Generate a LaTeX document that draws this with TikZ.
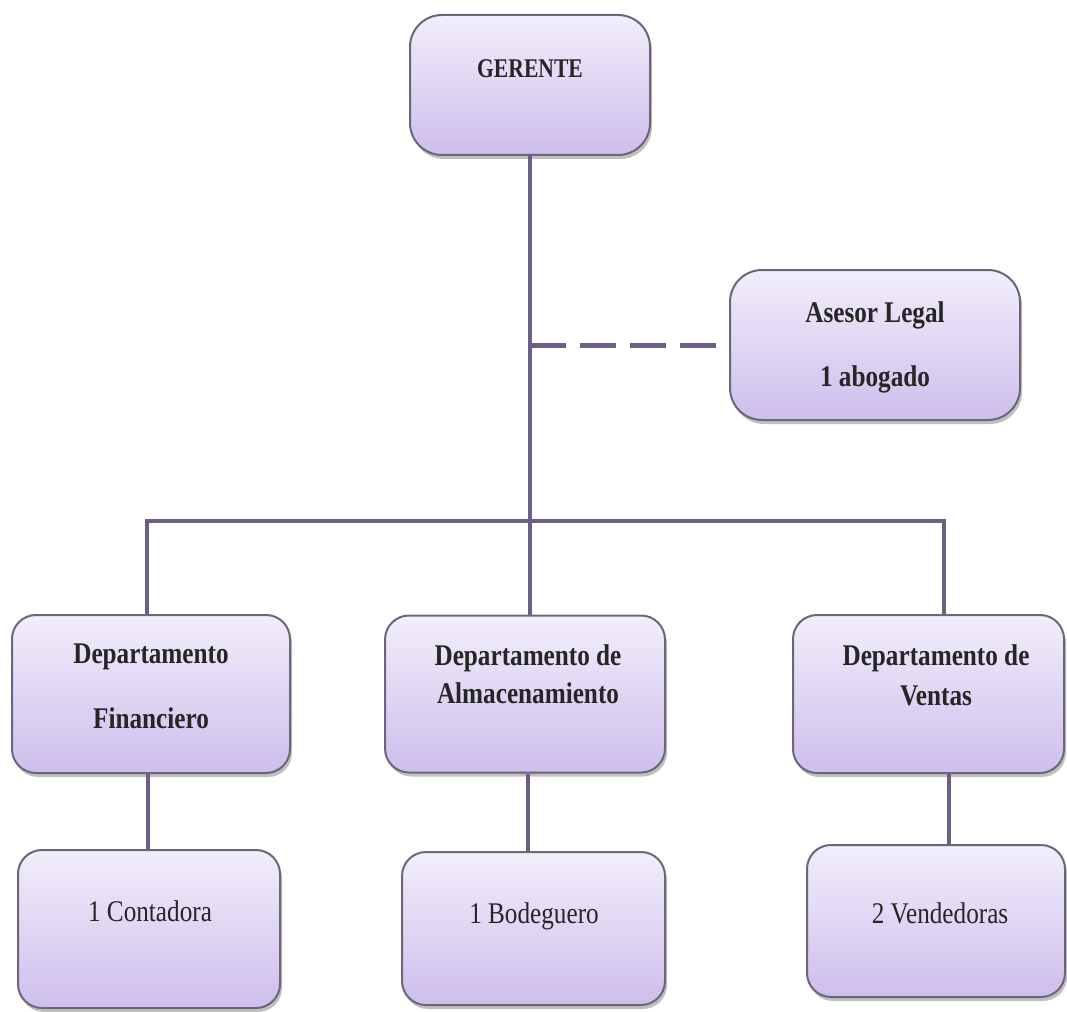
\documentclass[tikz,border=0pt]{standalone}
\usepackage{fontspec}
\setmainfont{Liberation Serif}
\newfontfamily\condfont[FakeStretch=0.84]{Liberation Serif}
\newfontfamily\gerfont[FakeStretch=0.8]{Liberation Serif}
\usetikzlibrary{shadows}
\definecolor{lavtop}{RGB}{242,238,251}
\definecolor{lavbot}{RGB}{206,190,236}
\definecolor{boxedge}{RGB}{108,102,122}
\definecolor{linecol}{RGB}{108,94,134}
\tikzset{
  box/.style={draw=boxedge, line width=2pt, rounded corners=24pt,
    top color=lavtop, bottom color=lavbot, inner sep=0pt,
    drop shadow={shadow xshift=2pt, shadow yshift=-4pt, opacity=0.35, fill=black!70}},
  bigbox/.style={box, rounded corners=32pt},
  lbl/.style={anchor=base, inner sep=0pt, text=black!85,
    font=\condfont\bfseries\fontsize{30}{34}\selectfont},
  lblreg/.style={lbl, font=\condfont\fontsize{30}{34}\selectfont},
  lblger/.style={lbl, font=\gerfont\bfseries\fontsize{27}{30}\selectfont},
  conn/.style={draw=linecol, line width=4pt},
  dashline/.style={draw=linecol, line width=5pt, dash pattern=on 36pt off 14pt}
}
\begin{document}
\begin{tikzpicture}[x=1pt,y=-1pt]
\useasboundingbox[fill=white] (0,0) rectangle (1067,1011);
% boxes
\node[bigbox, minimum width=240pt, minimum height=140pt] (ger) at (530,85) {};
\node[bigbox, minimum width=290pt, minimum height=150pt] (ase) at (875,345) {};
\node[box, minimum width=278pt, minimum height=158pt] (fin) at (151,694) {};
\node[box, minimum width=280pt, minimum height=157pt] (alm) at (525,694) {};
\node[box, minimum width=271pt, minimum height=158pt] (ven) at (928.5,694) {};
\node[box, minimum width=262pt, minimum height=158pt] (con) at (149,929) {};
\node[box, minimum width=263pt, minimum height=153pt] (bod) at (533.5,928.5) {};
\node[box, minimum width=258pt, minimum height=152pt] (vnd) at (936,921) {};
% texts
\node[lblger] (tger) at (530,78) {GERENTE};
\node[lbl] (tase1) at (875,322) {Asesor Legal};
\node[lbl] (tase2) at (875,386) {1 abogado};
\node[lbl] (tfin1) at (151,663) {Departamento};
\node[lbl] (tfin2) at (151,728) {Financiero};
\node[lbl] (talm1) at (528,665) {Departamento de};
\node[lbl] (talm2) at (528,703) {Almacenamiento};
\node[lbl] (tven1) at (936,665) {Departamento de};
\node[lbl] (tven2) at (936,705) {Ventas};
\node[lblreg] (tcon) at (150,921) {1 Contadora};
\node[lblreg] (tbod) at (534,923) {1 Bodeguero};
\node[lblreg] (tvnd) at (940,923) {2 Vendedoras};
% connectors
\coordinate (jl) at (147,521);
\coordinate (jr) at (944,521);
\coordinate (jm) at (ger.south |- jl);
\coordinate (dj) at (ger.south |- ase.west);
\draw[conn] (ger.south) -- (jm);
\draw[conn] ([xshift=-2pt]jl) -- ([xshift=2pt]jr);
\draw[conn] (jl) -- (jl |- fin.north);
\draw[conn] (jm) -- (jm |- alm.north);
\draw[conn] (jr) -- (jr |- ven.north);
\draw[conn] ([xshift=-3pt]fin.south) -- ([xshift=-3pt]fin.south |- con.north);
\draw[conn] ([xshift=3pt]alm.south) -- ([xshift=3pt]alm.south |- bod.north);
\draw[conn] ([xshift=20pt]ven.south) -- ([xshift=20pt]ven.south |- vnd.north);
\draw[dashline] (dj) -- ([xshift=-12pt]ase.west);
\end{tikzpicture}
\end{document}
